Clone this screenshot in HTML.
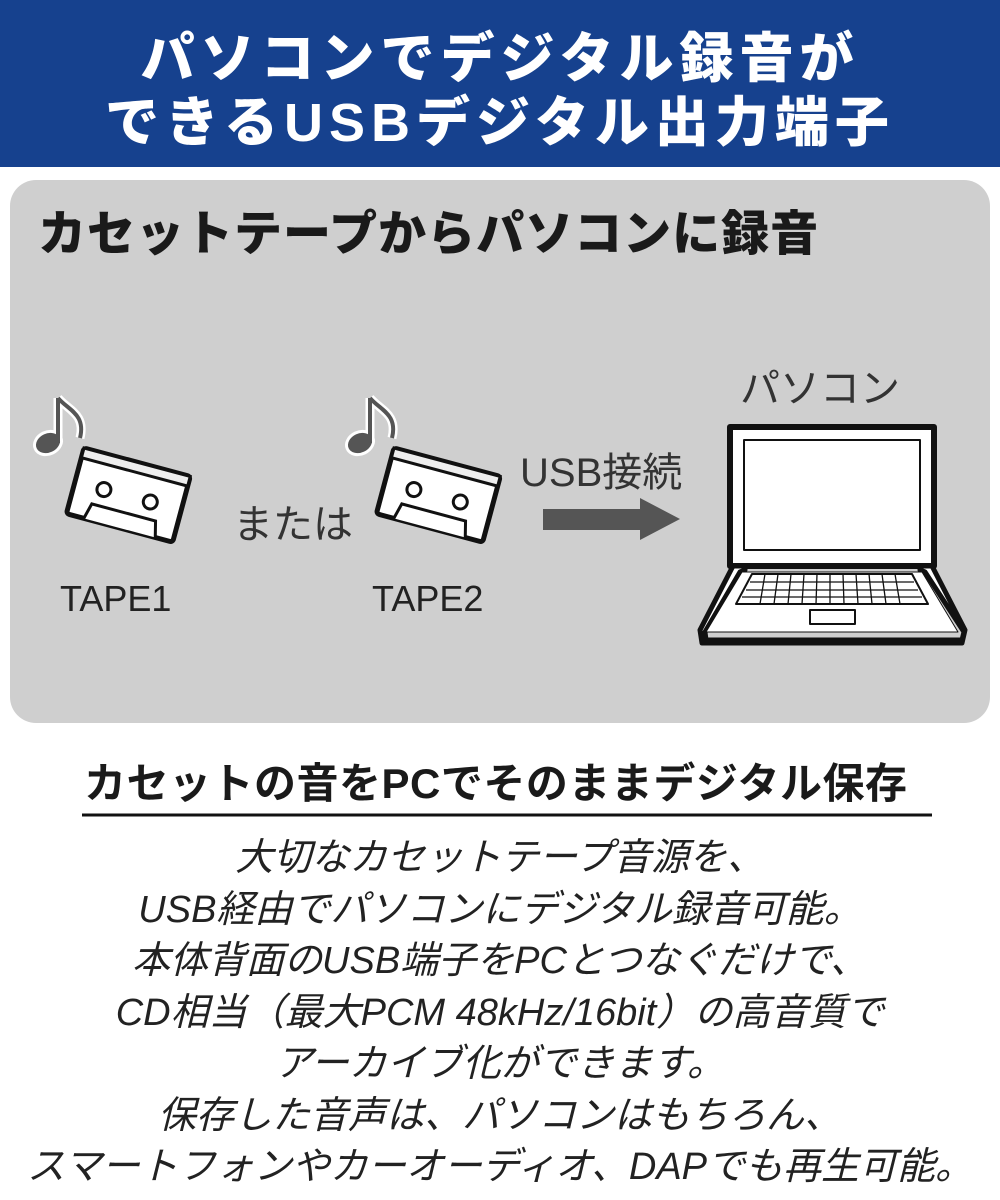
<!DOCTYPE html>
<html><head><meta charset="utf-8"><style>
body{margin:0;width:1000px;height:1200px;background:#fff;position:relative;overflow:hidden;font-family:"Liberation Sans","Noto Sans CJK JP",sans-serif;}
.hdr{position:absolute;left:0;top:0;width:1000px;height:167px;background:#16418e;color:#fff;font-weight:900;font-size:54px;text-align:center;letter-spacing:6px;line-height:64px;padding-top:27px;box-sizing:border-box;}
.panel{position:absolute;left:10px;top:180px;width:980px;height:543px;background:#cfcfcf;border-radius:26px;}
.t{position:absolute;white-space:nowrap;color:#1a1a1a;}
.body{position:absolute;left:0;width:1000px;top:833px;text-align:center;font-size:38px;line-height:51.5px;font-style:italic;color:#222;}
</style></head><body>
<div class="hdr">パソコンでデジタル録音が<br>できるUSBデジタル出力端子</div>
<div class="panel"></div>
<div class="t" style="left:38px;top:194px;font-size:48px;font-weight:900;letter-spacing:1px;">カセットテープからパソコンに録音</div>
<div class="t" style="left:740px;top:356px;font-size:40px;color:#333;">パソコン</div>
<div class="t" style="left:520px;top:440px;font-size:40px;color:#333;">USB接続</div>
<div class="t" style="left:233px;top:492px;font-size:40px;color:#333;">または</div>
<div class="t" style="left:60px;top:578px;font-size:36px;color:#222;">TAPE1</div>
<div class="t" style="left:372px;top:578px;font-size:36px;color:#222;">TAPE2</div>
<svg width="1000" height="1200" style="position:absolute;left:0;top:0">
<defs>
<g id="note"><path d="M20 0 L20 42" stroke="#fff" stroke-width="9"/><path d="M20 0 C30 12 48 16 42 40" stroke="#fff" stroke-width="9" fill="none"/><ellipse cx="10" cy="45" rx="14" ry="11" fill="#555" stroke="#fff" stroke-width="3" transform="rotate(-25 10 45)"/><path d="M20 0 L20 45" stroke="#555" stroke-width="4"/><path d="M20 0 C30 12 48 16 42 40" stroke="#555" stroke-width="4" fill="none"/></g>
<g id="cas"><g transform="rotate(15)"><rect x="0" y="0" width="110" height="68" rx="3" fill="#fff" stroke="#111" stroke-width="5"/><rect x="0" y="0" width="110" height="10" fill="#eee" stroke="#111" stroke-width="3"/><circle cx="30" cy="35" r="7" fill="#fff" stroke="#111" stroke-width="3"/><circle cx="78" cy="35" r="7" fill="#fff" stroke="#111" stroke-width="3"/><path d="M18 68 L22 52 L88 52 L92 68" fill="#fff" stroke="#111" stroke-width="3"/></g></g>
</defs>
<use href="#note" transform="translate(38,398)"/>
<use href="#note" transform="translate(350,398)"/>
<use href="#cas" transform="translate(84,448)"/>
<use href="#cas" transform="translate(394,448)"/>
<path d="M543 509 L640 509 L640 498 L680 519 L640 540 L640 530 L543 530Z" fill="#555"/>
<g stroke="#111" stroke-linejoin="round">
<rect x="730" y="427" width="204" height="139" fill="#fff" stroke-width="6"/>
<rect x="744" y="440" width="176" height="110" fill="#fff" stroke-width="2"/>
<path d="M733 566 L745 566 L745 570 L740 572 L705 632 L706 640 L962 640 L964 632 L925 572 L920 570 L920 566 L932 566 L965 630 L962 643 L702 643 L700 630Z" fill="#fff" stroke-width="5"/>
<path d="M742 572 L922 572 L958 632 L706 632Z" fill="#fff" stroke-width="1"/>
<path d="M752 574 L912 574 L928 604 L736 604Z" fill="#fff" stroke-width="2"/>
<rect x="810" y="610" width="45" height="14" fill="#fff" stroke-width="2"/>
</g>
<g stroke="#111" stroke-width="1.3">
<path d="M750 582 L914 582 M746 590 L918 590 M742 597 L922 597"/>
<path d="M765 574 L760 604 M778 574 L774 604 M791 574 L788 604 M804 574 L802 604 M817 574 L816 604 M830 574 L830 604 M843 574 L844 604 M856 574 L858 604 M869 574 L872 604 M882 574 L886 604 M895 574 L900 604"/>
</g>
<line x1="82" y1="815" x2="932" y2="815" stroke="#111" stroke-width="3"/>
</svg>
<div class="t" style="left:84px;top:750px;font-size:42px;font-weight:700;letter-spacing:0.5px;">カセットの音をPCでそのままデジタル保存</div>
<div class="body">大切なカセットテープ音源を、<br>USB経由でパソコンにデジタル録音可能。<br>本体背面のUSB端子をPCとつなぐだけで、<br>CD相当（最大PCM 48kHz/16bit）の高音質で<br>アーカイブ化ができます。<br>保存した音声は、パソコンはもちろん、<br>スマートフォンやカーオーディオ、DAPでも再生可能。</div>
</body></html>
